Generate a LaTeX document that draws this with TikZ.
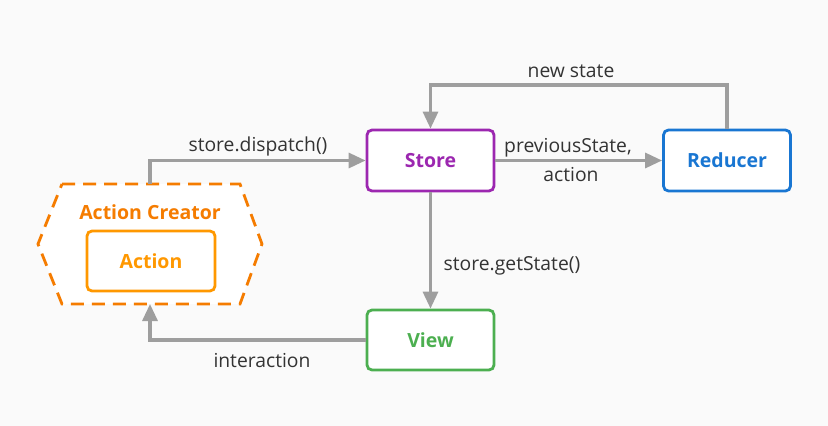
\documentclass[tikz,border=0pt]{standalone}
\usepackage{fontspec}
\setmainfont{Open Sans}
\usetikzlibrary{arrows.meta,calc}
\definecolor{bg}{HTML}{FAFAFA}
\definecolor{linegray}{HTML}{9E9E9E}
\definecolor{txt}{HTML}{333333}
\definecolor{storec}{HTML}{9C27B0}
\definecolor{reducerc}{HTML}{1976D2}
\definecolor{viewc}{HTML}{4CAF50}
\definecolor{actionc}{HTML}{FF9800}
\definecolor{creatorc}{HTML}{F57C00}
\tikzset{
  box/.style={draw, line width=2.8pt, rounded corners=5pt, fill=white,
    minimum width=127pt, minimum height=61pt, font=\fontsize{19.5}{22}\selectfont\bfseries, inner sep=0pt,
    text depth=0pt, yshift=0pt},
  conn/.style={draw=linegray, line width=3.2pt, -{Triangle[length=17pt,width=15pt]}},
  lbl/.style={text=txt, font=\fontsize{19.3}{27}\selectfont, inner sep=0pt, align=center},
}
\begin{document}
\begin{tikzpicture}[x=1pt,y=-1pt]
\fill[bg] (0,0) rectangle (828,426);
\useasboundingbox (0,0) rectangle (828,426);
% hexagon
\coordinate (h1) at (62,184);
\coordinate (h2) at (240,184);
\coordinate (h3) at (262,244);
\coordinate (h4) at (240,304);
\coordinate (h5) at (62,304);
\coordinate (h6) at (38,244);
\draw[creatorc, line width=2.8pt, dash pattern=on 13pt off 8pt, fill=white]
  (h1) -- (h2) -- (h3) -- (h4) -- (h5) -- (h6) -- cycle;
\coordinate (hextop) at (150,184);
\coordinate (hexbot) at (150,304);
\node[text=creatorc, font=\fontsize{19.5}{22}\selectfont\bfseries] (creator) at (150,212) {Action Creator};
\node[box, draw=actionc, text=actionc, minimum width=128pt, minimum height=60pt] (action) at (151,261) {Action};
% boxes
\node[box, draw=storec, text=storec] (store) at (430.5,160.5) {Store};
\node[box, draw=reducerc, text=reducerc] (reducer) at (727,160.5) {Reducer};
\node[box, draw=viewc, text=viewc, minimum height=60pt] (view) at (430.5,340) {View};
% connectors
\draw[conn] (hextop) |- (store.west);
\node[lbl] (l1) at (258,146) {store.dispatch()};
\draw[conn] (store.east) -- (reducer.west);
\node[lbl] (l2) at (568,148) {previousState,};
\node[lbl] (l3) at (571,175) {action};
\coordinate (top) at (727,85);
\draw[conn] (reducer.north) |- (top -| store.north) -- (store.north);
\node[lbl] (l4) at (571,71) {new state};
\draw[conn] (store.south) -- (view.north);
\node[lbl] (l5) at (512,266) {store.getState()};
\draw[conn] (view.west) -| (hexbot);
\node[lbl] (l6) at (262,361) {interaction};
\end{tikzpicture}
\end{document}
